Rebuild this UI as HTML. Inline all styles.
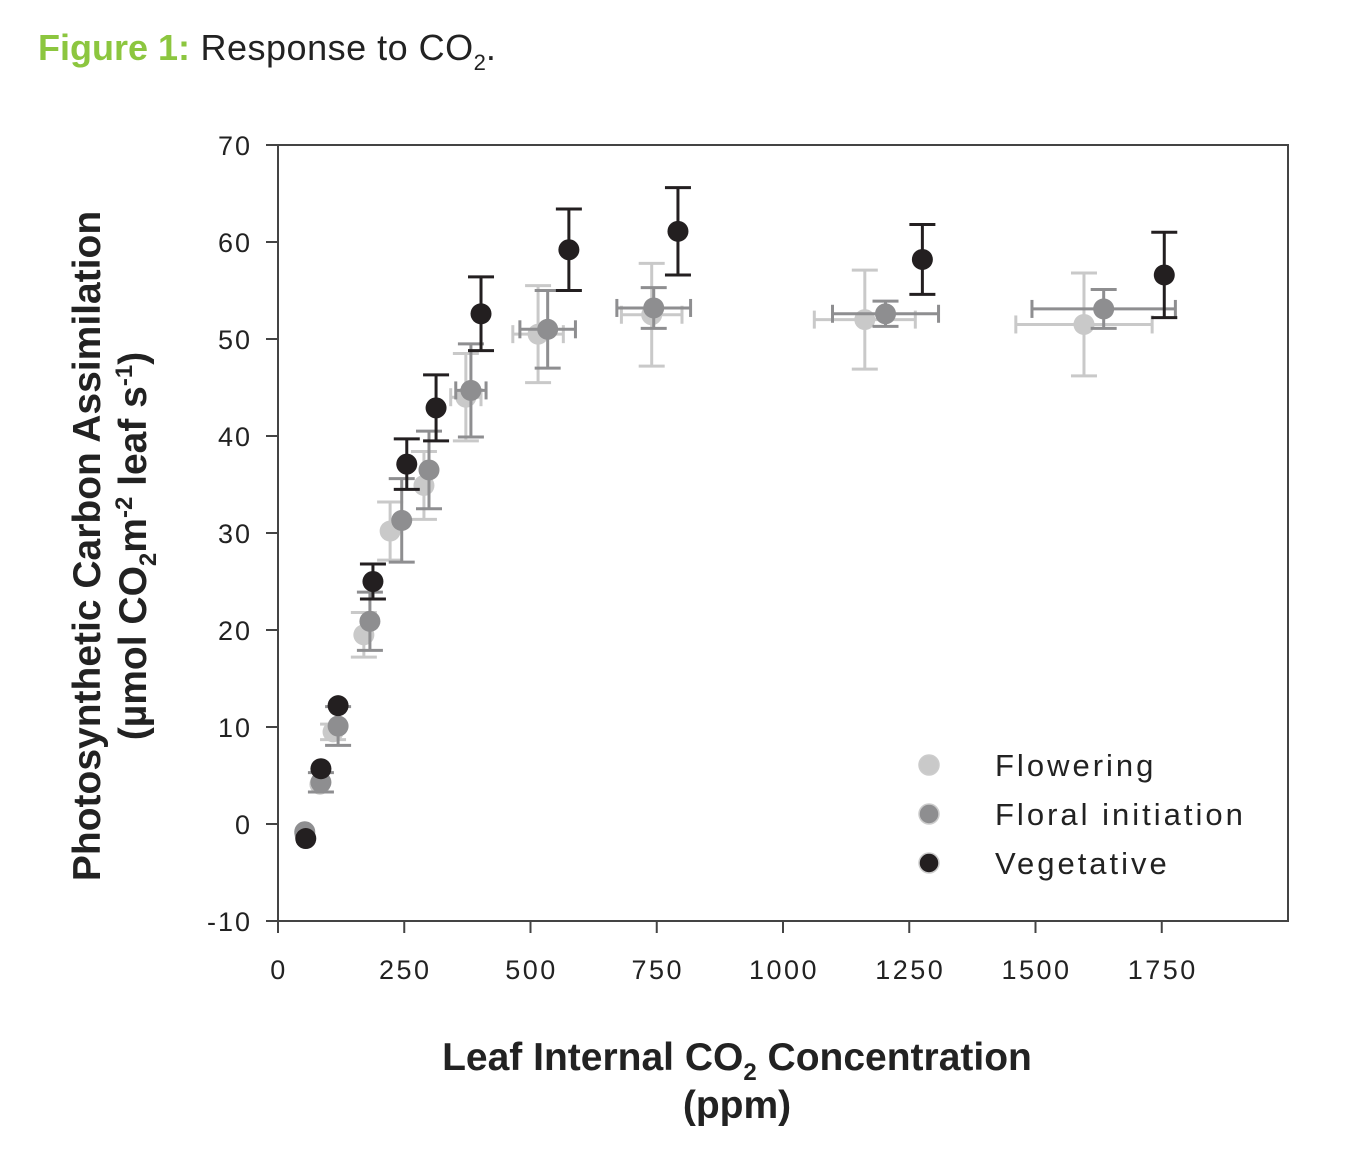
<!DOCTYPE html>
<html><head><meta charset="utf-8"><style>
body{margin:0;background:#fff;width:1367px;height:1166px;overflow:hidden}
svg{display:block}
</style></head><body>
<svg id="c" width="1367" height="1166" xmlns="http://www.w3.org/2000/svg">
<text x="38" y="60" font-family="'Liberation Sans',sans-serif" font-size="36"><tspan fill="#8cc63f" font-weight="bold">Figure 1:</tspan><tspan fill="#222" letter-spacing="0.5"> Response to CO</tspan><tspan fill="#222" font-size="22" dy="10">2</tspan><tspan fill="#222" dy="-10">.</tspan></text>
<g id="plot"></g>
<g font-family="'Liberation Sans',sans-serif" font-weight="bold" font-size="39" fill="#222">
<text transform="translate(100,546) rotate(-90)" text-anchor="middle">Photosynthetic Carbon Assimilation</text>
<text transform="translate(146,546) rotate(-90)" text-anchor="middle">(µmol CO<tspan font-size="24" dy="10">2</tspan><tspan dy="-10">m</tspan><tspan font-size="24" dy="-14">-2</tspan><tspan dy="14"> leaf s</tspan><tspan font-size="24" dy="-14">-1</tspan><tspan dy="14">)</tspan></text>
<text x="737" y="1070" text-anchor="middle">Leaf Internal CO<tspan font-size="24" dy="10">2</tspan><tspan dy="-10"> Concentration</tspan></text>
<text x="737" y="1118" text-anchor="middle">(ppm)</text>
</g>
</svg>
<script>
const xTicks=[0,250,500,750,1000,1250,1500,1750];
const yTicks=[-10,0,10,20,30,40,50,60,70];
const flowX=[53,83,109,170,222,289,372,515,740,1162,1596];
const flowY=[-1,4.1,9.5,19.5,30.2,34.9,44.0,50.5,52.5,52,51.5];
const flowYErr=[0.3,0.5,0.8,2.3,3,3.5,4.5,5,5.3,5.1,5.3];
const flowXErr=[0,0,0,0,0,0,30,50,60,100,135];
const florX=[53,85,119,182,245,299,382,534,744,1203,1635];
const florY=[-0.8,4.3,10.1,20.9,31.3,36.5,44.7,51.0,53.2,52.6,53.1];
const florYErr=[0.3,1,2,3,4.3,4,4.8,4,2.1,1.3,2];
const florXErr=[0,0,0,0,0,0,30,55,73,105,142];
const vegX=[55,85,119,188,255,313,402,576,792,1276,1755];
const vegY=[-1.5,5.7,12.2,25.0,37.1,42.9,52.6,59.2,61.1,58.2,56.6];
const vegYErr=[0.2,0.3,0.5,1.8,2.6,3.4,3.8,4.2,4.5,3.6,4.4];
const vegXErr=[0,0,0,0,0,0,0,0,0,0,0];
const L=278,R=1288,T=145,B=921;
const sx=v=>L+v*(R-L)/2000, sy=v=>B-(v+10)*(B-T)/80;
const NS='http://www.w3.org/2000/svg', g=document.getElementById('plot');
function mk(t,a,p){const e=document.createElementNS(NS,t);for(const k in a)e.setAttribute(k,a[k]);(p||g).appendChild(e);return e;}
const fr=mk('rect',{x:L,y:T,width:R-L,height:B-T,fill:'none',stroke:'#444','stroke-width':2});


yTicks.forEach(v=>{mk('line',{x1:L-12,x2:L,y1:sy(v),y2:sy(v),stroke:'#444','stroke-width':2});
const t=mk('text',{x:252,y:sy(v)+10,'text-anchor':'end','font-family':"'Liberation Sans',sans-serif",'font-size':27,fill:'#222','letter-spacing':2});t.textContent=v;

});
xTicks.forEach(v=>{mk('line',{x1:sx(v),x2:sx(v),y1:B,y2:B+12,stroke:'#444','stroke-width':2});
const t=mk('text',{x:sx(v)+1,y:979,'text-anchor':'middle','font-family':"'Liberation Sans',sans-serif",'font-size':27,fill:'#222','letter-spacing':2.5});t.textContent=v;

});
function series(xs,ys,ye,xe,col,name){const sg=mk('g',{});


xs.forEach((x,i)=>{const cx=sx(x),cy=sy(ys[i]);const st={stroke:col,'stroke-width':3};
const y1=sy(ys[i]+ye[i]),y2=sy(ys[i]-ye[i]);
if(ye[i]>0.6){mk('line',Object.assign({x1:cx,x2:cx,y1:y1,y2:y2},st),sg);
mk('line',Object.assign({x1:cx-13,x2:cx+13,y1:y1,y2:y1},st),sg);mk('line',Object.assign({x1:cx-13,x2:cx+13,y1:y2,y2:y2},st),sg);}
if(xe[i]>0){const x1=sx(x-xe[i]),x2=sx(x+xe[i]);mk('line',Object.assign({x1:x1,x2:x2,y1:cy,y2:cy},st),sg);
mk('line',Object.assign({x1:x1,x2:x1,y1:cy-9,y2:cy+9},st),sg);mk('line',Object.assign({x1:x2,x2:x2,y1:cy-9,y2:cy+9},st),sg);}
const c=mk('circle',{cx:cx,cy:cy,r:10.5,fill:col},sg);

});}
series(flowX,flowY,flowYErr,flowXErr,'#c9c9c9','flowering');
series(florX,florY,florYErr,florXErr,'#8e8e90','floral-initiation');
series(vegX,vegY,vegYErr,vegXErr,'#231f20','vegetative');
const leg=[['Flowering','#c9c9c9'],['Floral initiation','#8e8e90'],['Vegetative','#231f20']];
leg.forEach((l,i)=>{const y=765+i*49;const lg=mk('g',{});


mk('circle',{cx:929,cy:y,r:10,fill:l[1],stroke:'#ccc','stroke-width':1.5},lg);
const t=mk('text',{x:995,y:y+11,'font-family':"'Liberation Sans',sans-serif",'font-size':31,fill:'#222','letter-spacing':3},lg);t.textContent=l[0];});
</script>
</body></html>
